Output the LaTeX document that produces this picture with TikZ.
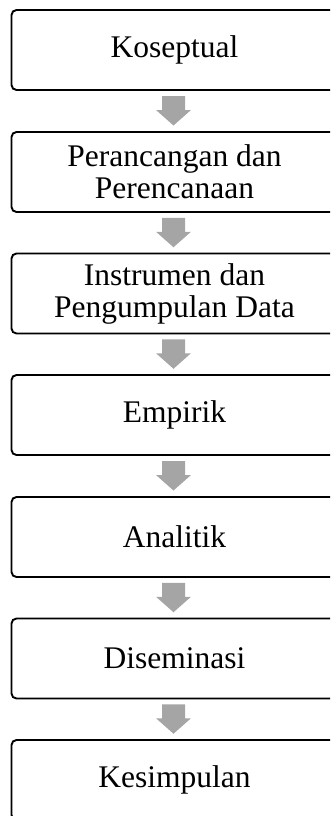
\documentclass[tikz,border=0pt]{standalone}
\usepackage{fontspec}
\setmainfont{Liberation Serif}
\usetikzlibrary{calc}
\definecolor{arrowgray}{HTML}{A5A5A5}
\begin{document}
\begin{tikzpicture}[x=1pt,y=-1pt,
  stage/.style={draw=black, line width=1.9pt, rounded corners=5pt,
    minimum width=326pt, minimum height=80pt, inner sep=0pt, align=center,
    font=\fontsize{31.5}{32}\selectfont},
  flowarrow/.pic={\fill[arrowgray] (-11.5,-15) -- (11.5,-15) -- (11.5,-1) -- (17.5,-1)
      -- (0,14.5) -- (-17.5,-1) -- (-11.5,-1) -- cycle;}]
\useasboundingbox (0,0) rectangle (330,816);
\clip (0,0) rectangle (330,816);
\node[stage] (s1) at (174.5,50) {Koseptual};
\node[stage] (s2) at (174.5,172) {Perancangan dan\\Perencanaan};
\node[stage] (s3) at (174.5,293.5) {Instrumen dan\\Pengumpulan Data};
\node[stage] (s4) at (174.5,415) {Empirik};
\node[stage] (s5) at (174.5,537) {Analitik};
\node[stage] (s6) at (174.5,658.5) {Diseminasi};
\node[stage] (s7) at (174.5,780) {Kesimpulan};
\foreach \a/\b in {s1/s2,s2/s3,s3/s4,s4/s5,s5/s6,s6/s7}{
  \pic at ($(\a.south)!0.5!(\b.north)+(-1,0)$) {flowarrow};
}
\end{tikzpicture}
\end{document}
